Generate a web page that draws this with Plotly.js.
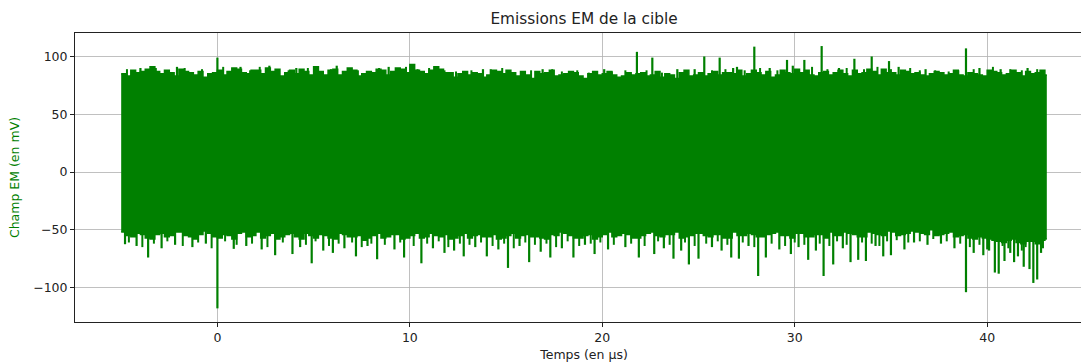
<!DOCTYPE html>
<html><head><meta charset="utf-8">
<script src="https://cdn.plot.ly/plotly-3.0.1.min.js"></script>
<style>html,body{margin:0;padding:0;overflow:hidden;background:#fff}#chart{width:1100px;height:362px}</style>
</head><body><div id="chart"></div>
<script>
// Envelope samples on the half-microsecond grid (µs)
const times = [-5.0,-4.5,-4.0,-3.5,-3.0,-2.5,-2.0,-1.5,-1.0,-0.5,0.0,0.5,1.0,1.5,2.0,2.5,3.0,3.5,4.0,4.5,5.0,5.5,6.0,6.5,7.0,7.5,8.0,8.5,9.0,9.5,10.0,10.5,11.0,11.5,12.0,12.5,13.0,13.5,14.0,14.5,15.0,15.5,16.0,16.5,17.0,17.5,18.0,18.5,19.0,19.5,20.0,20.5,21.0,21.5,22.0,22.5,23.0,23.5,24.0,24.5,25.0,25.5,26.0,26.5,27.0,27.5,28.0,28.5,29.0,29.5,30.0,30.5,31.0,31.5,32.0,32.5,33.0,33.5,34.0,34.5,35.0,35.5,36.0,36.5,37.0,37.5,38.0,38.5,39.0,39.5,40.0,40.5,41.0,41.5,42.0,42.5,43.0];
const endTime = 43.1;
// Upper envelope (mV) at those times, and at the quarter points between them
const upperEnvelope = [85,88,87,91,85,86,89,86,87,85,88,87,89,85,88,90,89,86,85,87,91,84,89,87,88,85,86,88,87,89,93,87,88,89,86,85,84,85,84,87,88,83,84,87,86,83,85,86,81,87,85,84,83,84,86,84,82,84,86,83,86,85,84,86,88,85,86,87,84,86,89,88,83,87,86,85,88,86,87,89,86,88,85,84,85,86,85,84,86,84,88,86,85,86,87,86,84];
const upperQuarter = [83,86,89,87,88,83,87,84,82,86,84,90,86,88,85,87,83,88,89,84,87,88,84,90,83,87,89,84,90,86,88,85,91,86,82,87,86,82,88,85,86,87,81,85,88,84,87,83,85,84,87,82,86,85,83,87,85,81,88,84,83,87,86,85,83,88,84,82,88,85,86,84,86,84,88,83,85,89,84,86,84,87,86,83,87,84,88,83,85,83,87,84,88,83,85,88];
// Lower envelope (mV)
const lowerEnvelope = [-52,-56,-54,-58,-53,-55,-52,-56,-54,-53,-57,-55,-53,-56,-52,-55,-58,-54,-56,-53,-57,-55,-58,-54,-56,-59,-55,-57,-54,-58,-55,-57,-53,-56,-58,-55,-57,-54,-56,-58,-55,-57,-54,-56,-58,-55,-53,-57,-55,-58,-54,-56,-53,-57,-55,-52,-56,-54,-57,-55,-53,-56,-54,-57,-55,-53,-56,-54,-52,-55,-53,-56,-54,-57,-55,-52,-54,-56,-53,-55,-52,-54,-51,-53,-50,-54,-52,-55,-57,-56,-58,-60,-59,-61,-60,-62,-58];
const lowerQuarter = [-55,-53,-57,-54,-56,-52,-55,-58,-51,-56,-54,-58,-52,-55,-57,-53,-56,-53,-58,-55,-54,-57,-53,-56,-55,-57,-53,-56,-54,-57,-53,-56,-55,-54,-57,-53,-55,-56,-54,-57,-53,-55,-56,-57,-54,-52,-55,-57,-54,-56,-52,-55,-54,-57,-53,-55,-54,-52,-56,-53,-55,-54,-57,-52,-55,-54,-56,-53,-55,-57,-53,-56,-54,-52,-55,-53,-56,-52,-54,-51,-55,-53,-52,-54,-55,-53,-56,-54,-58,-57,-59,-61,-58,-62,-60,-59];
// Large positive peaks
const spikeUpTimes  = [0.0,21.8,22.6,25.3,26.1,27.0,27.9,29.6,30.5,31.4,33.1,34.0,34.9,38.9,-4.0,-2.1,1.2,2.7,4.1,6.2,8.9,11.3,13.8,16.9,20.1,23.9,24.8,26.8,28.7,29.9,32.3,35.4,36.8,39.6,40.7,42.1];
const spikeUpValues = [99,104,99,100,99,91,108.5,97,97,109,98,100,96,107,90,91,91,92,90,92,91,91.5,89,89,89,89,89,90,90,92,90,91,89,90,89,90];
// Small positive peaks along the upper edge
const minorUpTimes  = [-4.7,-3.2,-2.7,-1.7,-0.8,0.3,0.8,1.7,2.2,3.2,3.7,4.7,5.3,5.9,6.8,7.3,7.9,8.4,9.3,9.8,10.4,11.0,11.8,12.4,13.2,14.2,14.8,15.3,16.3,17.4,17.9,18.7,19.3,20.5,21.2,22.3,23.1,24.3,25.7,26.4,27.4,28.2,29.1,30.9,31.7,32.7,33.6,34.3,35.0,36.0,36.5,37.3,38.0,38.5,39.3,40.3,41.2,41.8,42.6];
const minorUpValues = [89,90,88,90,89,91,90,88,91,89,88,90,87,89,90,88,87,90,89,91,89,90,88,87,88,89,90,86,88,89,87,88,86,87,88,88,86,87,88,89,88,90,88,91,89,90,89,91,89,90,88,88,87,88,89,91,89,88,89];
// Large negative peaks
const spikeDownTimes  = [-4.8,-3.6,0.0,0.85,3.0,3.9,4.9,6.0,7.2,8.3,9.7,10.6,11.8,12.8,14.0,15.1,16.2,17.3,18.5,19.6,21.9,22.7,23.7,24.5,25.0,26.7,27.1,28.1,28.5,29.8,30.7,31.5,32.0,32.9,33.3,33.7,34.6,35.0,35.7,37.6,38.9,39.8,40.4,40.6,40.9,41.4,41.9,42.2,42.4,42.6,
  -4.2,-2.9,-2.2,-1.3,-0.6,1.5,2.3,4.3,5.5,6.6,7.8,9.2,11.2,12.3,13.4,14.6,15.7,16.8,17.9,19.1,20.3,21.2,23.2,24.1,25.7,26.2,27.6,29.2,30.2,31.1,32.5,34.2,36.2,36.9,38.3,39.3,40.1,41.2,41.6,42.8];
const spikeDownValues = [-62.5,-74,-118,-66.5,-72,-71,-79,-70,-73,-75.5,-74,-79,-70,-73,-73,-83,-78,-74,-74,-71,-74,-71,-75,-80,-75,-74,-75,-90,-74,-71,-76,-90,-80,-78,-76,-77,-73,-72,-67,-62,-104,-72,-87,-88,-77,-78,-82,-84,-96,-93,
  -64,-66,-63,-65,-62,-64,-67,-65,-68,-66,-64,-67,-66,-68,-65,-67,-64,-69,-66,-63,-67,-65,-66,-68,-65,-68,-64,-67,-65,-68,-66,-64,-61,-63,-66,-70,-68,-70,-73,-70];
// Small negative peaks along the lower edge
const minorDownTimes  = [-4.6,-3.9,-3.3,-2.6,-1.8,-1.0,-0.3,0.4,1.0,1.8,2.6,3.4,4.6,5.1,5.8,6.3,7.0,7.5,8.0,8.7,9.5,10.2,10.9,11.5,12.0,12.6,13.1,13.7,14.3,14.9,15.4,16.0,16.5,17.1,17.6,18.2,18.8,19.4,19.9,20.6,21.5,22.2,22.9,23.5,24.3,24.8,25.4,26.0,26.5,27.3,27.9,28.8,29.5,30.0,30.5,31.3,31.8,32.2,32.7,33.5,34.0,34.4,34.8,35.3,35.9,36.5,37.2,37.9,38.6,39.1,39.6,40.0,40.8,41.1,41.8,42.0,42.9];
const minorDownValues = [-61,-65,-62,-60,-64,-61,-66,-60,-63,-62,-65,-61,-63,-60,-64,-62,-61,-65,-62,-63,-61,-64,-62,-60,-65,-62,-63,-61,-64,-62,-66,-61,-63,-62,-65,-60,-64,-62,-61,-63,-62,-64,-60,-63,-61,-64,-62,-60,-63,-61,-65,-62,-64,-61,-63,-62,-64,-60,-63,-61,-62,-64,-60,-59,-61,-60,-58,-60,-62,-65,-63,-67,-64,-66,-68,-65,-66];
const xTickValues = [0,10,20,30,40];
const yTickValues = [-100,-50,0,50,100];

const green = '#008000';
// interleave half-grid and quarter-point samples
const envX = [], upY = [], lowY = [];
times.forEach((t, i) => {
  envX.push(t); upY.push(upperEnvelope[i]); lowY.push(lowerEnvelope[i]);
  if (i < upperQuarter.length) { envX.push(t + 0.25); upY.push(upperQuarter[i]); lowY.push(lowerQuarter[i]); }
});
envX.push(endTime); upY.push(upY[upY.length-1]); lowY.push(lowY[lowY.length-1]);

function segs(ts, vs){
  const x=[], y=[];
  ts.forEach((t,i)=>{x.push(t,t,null); y.push(0,vs[i],null);});
  return {x,y};
}
const su = segs(spikeUpTimes, spikeUpValues);
const sd = segs(spikeDownTimes, spikeDownValues);
const mu = segs(minorUpTimes, minorUpValues);
const md = segs(minorDownTimes, minorDownValues);

const traces = [
  {x: envX, y: lowY, mode:'lines', line:{color:green, width:1.5, shape:'hv'}, hoverinfo:'skip', showlegend:false},
  {x: envX, y: upY, mode:'lines', fill:'tonexty', fillcolor:green, line:{color:green, width:1.5, shape:'hv'}, hoverinfo:'skip', showlegend:false},
  {x: mu.x, y: mu.y, mode:'lines', line:{color:green, width:2}, hoverinfo:'skip', showlegend:false},
  {x: md.x, y: md.y, mode:'lines', line:{color:green, width:2}, hoverinfo:'skip', showlegend:false},
  {x: su.x, y: su.y, mode:'lines', line:{color:green, width:2.2}, hoverinfo:'skip', showlegend:false},
  {x: sd.x, y: sd.y, mode:'lines', line:{color:green, width:2.2}, hoverinfo:'skip', showlegend:false}
];

const axisFont = {family:'DejaVu Sans', size:12.5, color:'#222'};
const layout = {
  width:1100, height:362,
  margin:{l:75, r:7, t:33, b:40},
  paper_bgcolor:'#fff', plot_bgcolor:'#fff',
  font:{family:'DejaVu Sans', color:'#222'},
  title:{text:'Emissions EM de la cible', font:{family:'DejaVu Sans', size:15.3, color:'#222'}, x:0.5, xref:'paper', y:1-19/362, yref:'container', yanchor:'middle'},
  xaxis:{range:[-7.4,45.5], tickvals:xTickValues, ticks:'outside', ticklen:4, tickcolor:'#222', tickfont:axisFont,
    showgrid:true, gridcolor:'#b0b0b0', gridwidth:0.8, zeroline:false, showline:true, linecolor:'#222', linewidth:1, mirror:true,
    title:{text:'Temps (en µs)', font:{family:'DejaVu Sans', size:12.5, color:'#222'}, standoff:7}},
  yaxis:{range:[-129.8,120.3], tickvals:yTickValues, ticks:'outside', ticklen:4, tickcolor:'#222', tickfont:axisFont,
    showgrid:true, gridcolor:'#b0b0b0', gridwidth:0.8, zeroline:false, showline:true, linecolor:'#222', linewidth:1, mirror:true,
    title:{text:'Champ EM (en mV)', font:{family:'DejaVu Sans', size:12.5, color:green}, standoff:10}},
  showlegend:false
};
Plotly.newPlot('chart', traces, layout, {displayModeBar:false, staticPlot:true});
</script></body></html>
